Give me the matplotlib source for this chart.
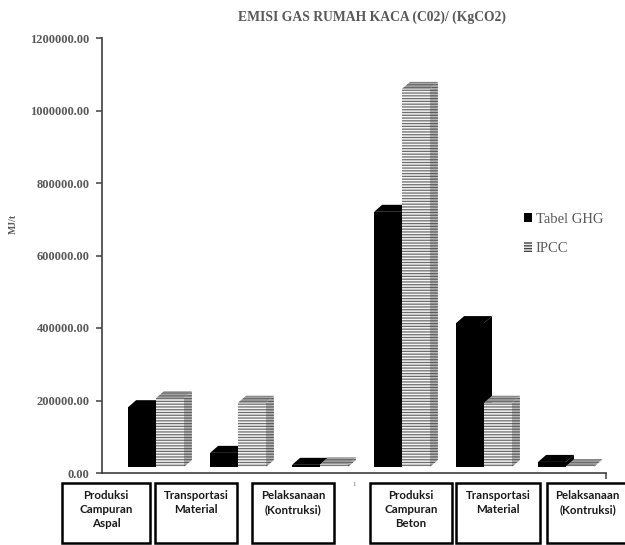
import matplotlib
matplotlib.use("Agg")
import matplotlib.pyplot as plt
from matplotlib.patches import Polygon, Patch, Rectangle
from matplotlib.transforms import ScaledTranslation
from matplotlib.ticker import FormatStrFormatter

# ---- data -------------------------------------------------------------
categories = [
    "Produksi\nCampuran\nAspal",
    "Transportasi\nMaterial",
    "Pelaksanaan\n(Kontruksi)",
    "Produksi\nCampuran\nBeton",
    "Transportasi\nMaterial",
    "Pelaksanaan\n(Kontruksi)",
]
series_names = ["Tabel GHG", "IPCC"]
tabel_ghg = [165000, 39000, 6000, 704000, 397000, 14000]
ipcc = [190000, 177000, 7000, 1043000, 177000, 2000]
y_ticks = [0, 200000, 400000, 600000, 800000, 1000000, 1200000]
title = "EMISI GAS RUMAH KACA (C02)/ (KgCO2)"
y_label = "MJ/t"

# ---- layout / style ---------------------------------------------------
W, H = 625, 545
SERIF = "Liberation Serif"
GREY_TXT = "#595959"
AXIS_COL = "#404040"
BAR_W = 0.34
DEPTH_PX = (8, 7)       # 3-D depth of the columns (pixels)
FLOOR_PX = 6            # columns stand on the floor, slightly behind the axis line
box_edges_px = [(62, 150), (155, 237), (252, 334), (370, 452), (456, 540), (547, 628)]
box_top_px, box_bot_px = 483, 543

fig = plt.figure(figsize=(W / 100, H / 100), dpi=100)
ax = fig.add_axes([102 / W, 72 / H, 504 / W, 435 / H])
ax.set_xlim(-0.6585, -0.6585 + 504 / 82)
ax.set_ylim(y_ticks[0], y_ticks[-1])

inv = ax.transData.inverted()
x0d, y0d = inv.transform((0, 0))
x1d, y1d = inv.transform(DEPTH_PX)
ddx, ddy = x1d - x0d, y1d - y0d
floor = ax.transData + ScaledTranslation(0, FLOOR_PX / 100, fig.dpi_scale_trans)


def prism(x0, x1, h, faces):
    """Draw a 3-D column: side, cap and front face."""
    side = [(x1, 0), (x1 + ddx, ddy), (x1 + ddx, h + ddy), (x1, h)]
    cap = [(x0, h), (x1, h), (x1 + ddx, h + ddy), (x0 + ddx, h + ddy)]
    front = [(x0, 0), (x1, 0), (x1, h), (x0, h)]
    for verts, (fc, hatch, hc) in zip((side, cap, front), faces):
        with plt.rc_context({"hatch.color": hc, "hatch.linewidth": 0.9}):
            p = Polygon(verts, closed=True, facecolor=fc, hatch=hatch,
                        transform=floor, clip_on=False, zorder=3)
        ax.add_patch(p)


black_faces = [("black", None, "black")] * 3
striped_faces = [
    ("#b8b8b8", "------", "#5a5a5a"),   # side
    ("#a4a4a4", "------", "#6a6a6a"),   # cap
    ("#f4f4f4", "------", "#6e6e6e"),   # front
]

for i, (g, p) in enumerate(zip(tabel_ghg, ipcc)):
    prism(i - BAR_W, i, g, black_faces)
    prism(i, i + BAR_W, p, striped_faces)

# ---- axes styling -----------------------------------------------------
for s in ("top", "right"):
    ax.spines[s].set_visible(False)
for s in ("left", "bottom"):
    ax.spines[s].set_color(AXIS_COL)
    ax.spines[s].set_linewidth(1.2)

ax.set_yticks(y_ticks)
ax.yaxis.set_major_formatter(FormatStrFormatter("%.2f"))
ax.tick_params(axis="y", direction="out", length=4, width=1.1, color=AXIS_COL,
               labelcolor=GREY_TXT, labelsize=9, pad=5)
for lab in ax.get_yticklabels():
    lab.set_fontfamily(SERIF)
    lab.set_fontweight("bold")
ax.set_xticks([ax.get_xlim()[1]])
ax.set_xticklabels([""])
ax.tick_params(axis="x", direction="out", length=4, width=1.1, color=AXIS_COL)

# ---- texts ------------------------------------------------------------
fig.text(372 / W, 1 - 17 / H, title, ha="center", va="center", fontsize=9.8,
         fontfamily=SERIF, fontweight="bold", color=GREY_TXT)
fig.text(13 / W, 1 - 224 / H, y_label, rotation=90, ha="center", va="center",
         fontsize=7, fontfamily=SERIF, fontweight="bold", color=GREY_TXT)
fig.text(354 / W, 1 - 484 / H, "1", ha="center", va="center", fontsize=5,
         fontfamily=SERIF, color="#777777")

# category boxes under the axis
for (l, r), name in zip(box_edges_px, categories):
    fig.patches.append(Rectangle((l / W, 1 - box_bot_px / H), (r - l) / W,
                                 (box_bot_px - box_top_px) / H,
                                 transform=fig.transFigure, facecolor="white",
                                 edgecolor="black", linewidth=1.8, clip_on=False))
    fig.text((l + r) / 2 / W, 1 - 490 / H, name, ha="center", va="top",
             fontsize=8.3, fontfamily="Lato", fontweight="bold", color="#1a1a1a",
             linespacing=1.35)

# ---- legend -----------------------------------------------------------
with plt.rc_context({"hatch.color": "#444444", "hatch.linewidth": 1.1}):
    h_ipcc = Patch(facecolor="#f0f0f0", hatch="------")
h_ghg = Patch(facecolor="black")
ax.legend([h_ghg, h_ipcc], series_names, loc="upper left",
          bbox_to_anchor=(524 / W, 1 - 213 / H), bbox_transform=fig.transFigure,
          frameon=False, borderpad=0, borderaxespad=0, handlelength=0.55,
          handleheight=0.6, handletextpad=0.25, labelspacing=1.1,
          labelcolor=GREY_TXT, prop={"family": SERIF, "size": 10.5})

fig.savefig("out.png", dpi=100)
